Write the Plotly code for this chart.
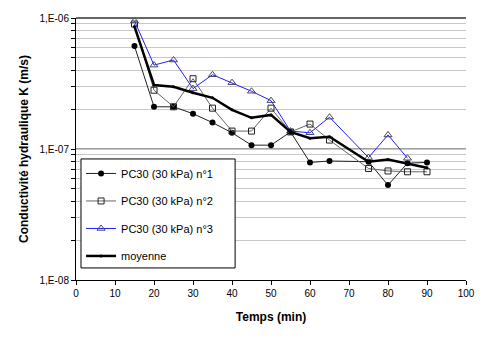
import plotly.graph_objects as go

# Time (min) and hydraulic conductivity K (m/s) for each sample
temps = [15, 20, 25, 30, 35, 40, 45, 50, 55, 60, 65, 75, 80, 85, 90]
temps_n3 = [15, 20, 25, 30, 35, 40, 45, 50, 55, 60, 65, 75, 80, 85]

k_n1 = [6.1e-7, 2.1e-7, 2.1e-7, 1.86e-7, 1.59e-7, 1.33e-7, 1.07e-7, 1.07e-7,
        1.35e-7, 7.9e-8, 8.1e-8, 8.0e-8, 5.3e-8, 7.8e-8, 7.9e-8]
k_n2 = [9.0e-7, 2.81e-7, 2.1e-7, 3.44e-7, 2.05e-7, 1.37e-7, 1.37e-7, 2.05e-7,
        1.35e-7, 1.55e-7, 1.17e-7, 7.1e-8, 6.8e-8, 6.7e-8, 6.7e-8]
k_n3 = [9.5e-7, 4.37e-7, 4.78e-7, 2.89e-7, 3.69e-7, 3.21e-7, 2.76e-7, 2.34e-7,
        1.37e-7, 1.33e-7, 1.75e-7, 8.6e-8, 1.28e-7, 8.5e-8]
k_moy = [8.6e-7, 3.08e-7, 2.99e-7, 2.69e-7, 2.46e-7, 1.99e-7, 1.73e-7, 1.82e-7,
         1.35e-7, 1.21e-7, 1.24e-7, 8.0e-8, 8.3e-8, 7.7e-8, 7.2e-8]

y_ticks = [m * 10.0 ** e for e in (-8, -7) for m in range(1, 10)] + [1e-6]
y_labels = {1e-8: "1,E-08", 1e-7: "1,E-07", 1e-6: "1,E-06"}
x_ticks = list(range(0, 101, 10))

fig = go.Figure()

# Sample 1: filled circles
fig.add_trace(go.Scatter(
    x=temps, y=k_n1, mode="lines+markers", name="PC30 (30 kPa) n°1",
    line=dict(color="#222222", width=1),
    marker=dict(symbol="circle", size=6, color="black"),
    legendgroup="a"
))
# Sample 2: open squares
fig.add_trace(go.Scatter(
    x=temps, y=k_n2, mode="lines+markers", name="PC30 (30 kPa) n°2",
    line=dict(color="#666666", width=1),
    marker=dict(symbol="square-open", size=6, color="#222222", line=dict(width=1)),
    legendgroup="b"
))
# Sample 3: open triangles, blue line
fig.add_trace(go.Scatter(
    x=temps_n3, y=k_n3, mode="lines+markers", name="PC30 (30 kPa) n°3",
    line=dict(color="#2020ff", width=1),
    marker=dict(symbol="triangle-up-open", size=7, color="#44446a", line=dict(width=1)),
    legendgroup="c"
))
# Average: thick black line
fig.add_trace(go.Scatter(
    x=temps, y=k_moy, mode="lines+markers", name="moyenne",
    line=dict(color="black", width=2.5),
    marker=dict(symbol="circle", size=3, color="black"),
    legendgroup="d"
))

# Darker line for 1E-07 and the top border
fig.add_shape(type="line", xref="paper", yref="paper", x0=0, x1=1, y0=0.5, y1=0.5,
              line=dict(color="#808080", width=1.5), layer="below")
fig.add_shape(type="line", xref="paper", yref="paper", x0=0, x1=1, y0=1, y1=1,
              line=dict(color="#333333", width=1.5), layer="below")
# Legend box (wider than plotly's own legend frame)
fig.add_shape(type="rect", xref="paper", yref="paper", x0=0.0128, x1=0.408, y0=0.046, y1=0.462,
              line=dict(color="black", width=1), fillcolor="white", layer="above")

fig.update_layout(
    width=480, height=341,
    margin=dict(l=76, r=14, t=18, b=61),
    paper_bgcolor="white", plot_bgcolor="white",
    font=dict(family="Liberation Sans, Arial, sans-serif", size=10, color="black"),
    showlegend=True,
    legend=dict(
        x=0.013, y=0.462, xanchor="left", yanchor="top",
        bgcolor="rgba(0,0,0,0)", borderwidth=0,
        font=dict(size=11), tracegroupgap=8.5, traceorder="grouped",
        itemwidth=30
    ),
    xaxis=dict(
        range=[0, 100], tickvals=x_ticks, showgrid=False, zeroline=False,
        showline=True, linecolor="black", linewidth=1, automargin=False,
        ticks="outside", ticklen=4, tickcolor="black",
        title=dict(text="<b>Temps (min)</b>", font=dict(size=12), standoff=14)
    ),
    yaxis=dict(
        type="log", range=[-8, -6], tickvals=y_ticks,
        ticktext=[y_labels.get(v, "") if any(abs(v - k) < k * 1e-6 for k in y_labels) else ""
                  for v in y_ticks],
        showgrid=True, gridcolor="#c8c8c8", gridwidth=1, zeroline=False,
        showline=True, linecolor="black", linewidth=1, automargin=False,
        ticks="outside", ticklen=4, tickcolor="black",
        title=dict(text="<b>Conductivité hydraulique K (m/s)</b>", font=dict(size=12), standoff=8)
    ),
)

# Remove the page's default body margin so the figure sits at the top-left corner
fig.write_html("out.html", config={"displayModeBar": False},
               post_script="document.body.style.margin = '0';")
